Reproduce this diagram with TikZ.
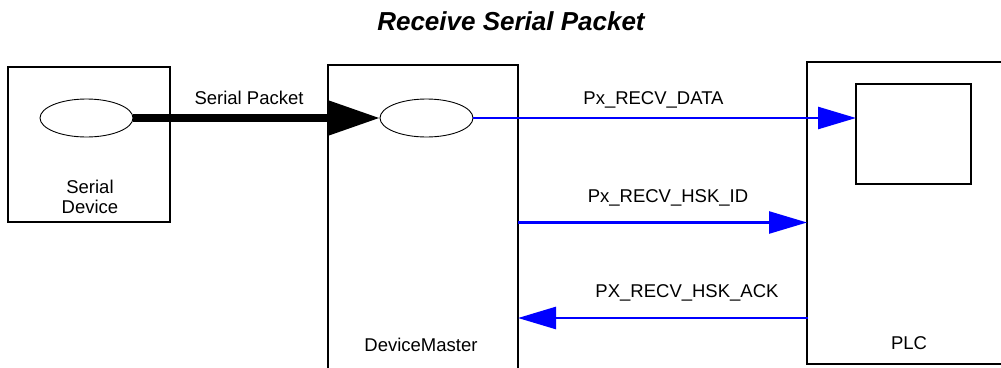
\documentclass[tikz,border=0pt]{standalone}
\usepackage{fontspec}
\setmainfont{Liberation Sans}
\usetikzlibrary{arrows.meta,shapes.geometric}
\begin{document}
\begin{tikzpicture}[x=1pt,y=-1pt,
  box/.style={draw, line width=2pt, inner sep=0pt, outer sep=0pt},
  oval/.style={draw, ellipse, line width=0.9pt, inner sep=0pt, outer sep=0pt, minimum width=93pt, minimum height=38pt},
  lbl/.style={font=\fontsize{18.5}{20.5}\selectfont, inner sep=0pt, align=center},
  sig/.style={draw=blue, line width=2.6pt, -{Triangle[length=38pt,width=22pt]}},
  bigarrow/.style={draw=black, line width=8pt, -{Triangle[length=53pt,width=34pt]}}]
\useasboundingbox (0,0) rectangle (1001,367);
\clip (0,0) rectangle (1001,367);
\node[font=\fontsize{26}{28}\selectfont\bfseries\itshape, inner sep=0pt] (title) at (511,21) {Receive Serial Packet};
% boxes
\node[box, minimum width=162pt, minimum height=155pt] (sd) at (89,144.5) {};
\node[box, minimum width=190pt, minimum height=315pt] (dm) at (423,222.5) {};
\node[box, minimum width=213pt, minimum height=302pt] (plc) at (913.5,213) {};
\node[box, minimum width=115pt, minimum height=100pt] (inner) at (913.5,134) {};
% ellipses
\node[oval] (sde) at (86.5,118) {};
\node[oval] (dme) at (426.5,118) {};
% box labels
\node[lbl] (sdl) at (90,197) {Serial\\Device};
\node[lbl] (dml) at (421,345) {DeviceMaster};
\node[lbl] (plcl) at (909,343) {PLC};
% connectors
\draw[bigarrow] (sde.east) -- (dme.west);
\draw[sig] (dme.east) -- (dme.east -| inner.west);
\draw[sig] (dm.east) -- (dm.east -| plc.west);
\coordinate (ackR) at (808,318);
\draw[sig] (ackR) -- (ackR -| dm.east);
% connector labels
\node[lbl] (l1) at (249,98) {Serial Packet};
\node[lbl] (l2) at (653.5,100) {Px\_RECV\_DATA};
\node[lbl] (l3) at (668,198) {Px\_RECV\_HSK\_ID};
\node[lbl] (l4) at (687,293) {PX\_RECV\_HSK\_ACK};
\end{tikzpicture}
\end{document}
